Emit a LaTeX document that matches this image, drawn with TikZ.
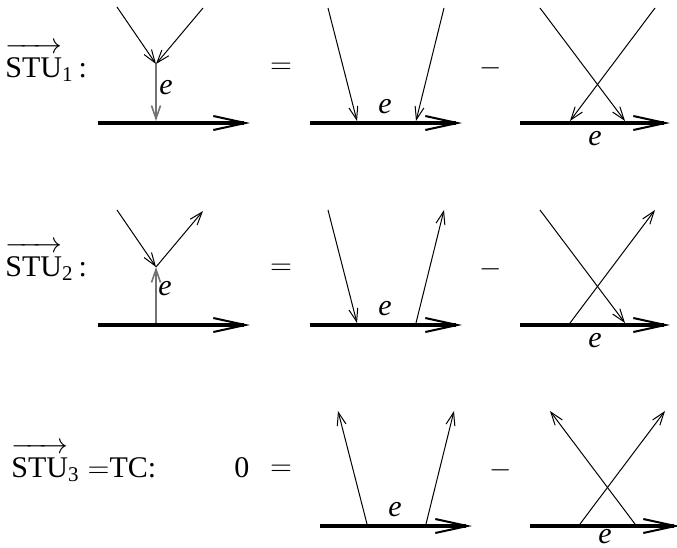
\documentclass[tikz,border=0pt]{standalone}
\usepackage{fontspec}
\setmainfont{Liberation Serif}
\usetikzlibrary{arrows.meta}
\definecolor{elgray}{gray}{0.45}
\newcommand{\subnr}[1]{\mbox{\fontsize{10.5}{12}\selectfont #1}}
\newcommand{\stuvec}{\overrightarrow{\mbox{\rule{0pt}{13pt}STU}}}

\begin{document}
\begin{tikzpicture}[x=0.5pt, y=-0.5pt,
    every node/.style={font=\fontsize{15}{18}\selectfont, inner sep=0pt},
    leg/.style={line width=0.5pt},
    gleg/.style={line width=0.8pt, draw=elgray},
    dn/.style={-{Straight Barb[length=6.5pt,width=4.5pt]}},
    up/.style={{Straight Barb[length=6.5pt,width=4.5pt]}-},
    track/.style={line width=2.2pt, -{Straight Barb[length=16pt,width=7pt,line width=1pt]}}]
  \useasboundingbox (0,0) rectangle (677,548);
  % linker labels
  \node[anchor=base west] (stu1) at (5,77) {$\stuvec_{\subnr{1}}$\hspace{2.5pt}:};
  \node[anchor=base west] (stu2) at (5,276) {$\stuvec_{\subnr{2}}$\hspace{2.5pt}:};
  \node[anchor=base west] (stu3) at (11,477) {$\stuvec_{\subnr{3}}\;{=}$TC:};
  \node[anchor=base] (zero) at (242,477) {0};
  % = en -
  \foreach \r/\x/\y in {1/0/68, 2/0/269, 3/10/470} {
    \node (eq\r) at (281,\y) {$=$};
    \node (min\r) at (491+\x,\y) {$-$};
  }
  % vertex 1
  \coordinate (v1) at (156,64);
  \coordinate (p1l) at (117,7);
  \coordinate (p1r) at (203,8);
  \coordinate (f1) at (156,121);
  \draw[track] (98,123) coordinate (s1) -- (250,123) coordinate (t1);
  \draw[leg,dn] (p1l) -- (v1);
  \draw[leg,dn] (p1r) -- (v1);
  \draw[gleg,dn] (v1) -- (f1);
  \node (e1) at (166,88) {\textit{e}};
  % vertex 2
  \coordinate (v2) at (156,267);
  \coordinate (p2l) at (117,210);
  \coordinate (p2r) at (203,211);
  \coordinate (f2) at (156,323);
  \draw[track] (98,325) coordinate (s2) -- (250,325) coordinate (t2);
  \draw[leg,dn] (p2l) -- (v2);
  \draw[leg,dn] (v2) -- (p2r);
  \draw[gleg,dn] (f2) -- (v2);
  \node (e2) at (165,289) {\textit{e}};
  % rechterkant: twee benen, recht en gekruist
  \foreach \r/\x/\y/\la/\ra/\eo in {1/310/123/dn/dn/16, 2/310/325/dn/up/16, 3/320/526/up/up/11} {
    \begin{scope}[shift={(\x,\y)}]
      \coordinate (b\r-s) at (0,0);
      \coordinate (b\r-t) at (152,0);
      \coordinate (b\r-lt) at (18,-115);
      \coordinate (b\r-lb) at (47,-2);
      \coordinate (b\r-rt) at (134,-115);
      \coordinate (b\r-rb) at (106,-2);
      \draw[track] (b\r-s) -- (b\r-t);
      \draw[leg,\la] (b\r-lt) -- (b\r-lb);
      \draw[leg,\ra] (b\r-rt) -- (b\r-rb);
      \node (b\r-e) at (75,-16) {\textit{e}};
    \end{scope}
    \begin{scope}[shift={(\x+210,\y)}]
      \coordinate (c\r-s) at (0,0);
      \coordinate (c\r-t) at (150,0);
      \coordinate (c\r-lt) at (20,-115);
      \coordinate (c\r-lb) at (105,-2);
      \coordinate (c\r-rt) at (135,-115);
      \coordinate (c\r-rb) at (50,-2);
      \draw[track] (c\r-s) -- (c\r-t);
      \draw[leg,\la] (c\r-lt) -- (c\r-lb);
      \draw[leg,\ra] (c\r-rt) -- (c\r-rb);
      \node (c\r-e) at (75,\eo) {\textit{e}};
    \end{scope}
  }
\end{tikzpicture}
\end{document}
